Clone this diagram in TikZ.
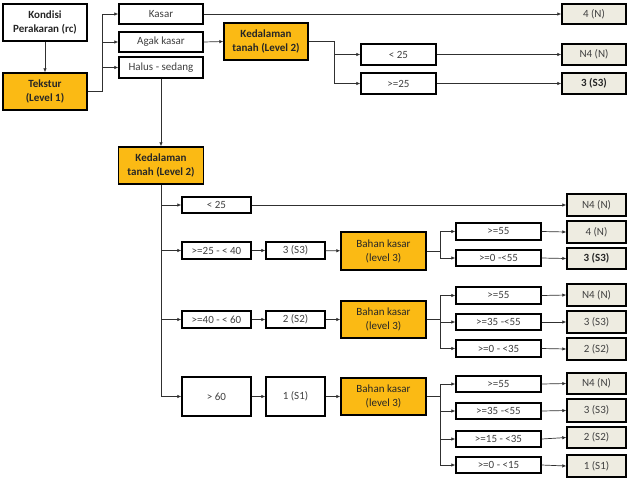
\documentclass[tikz,border=0pt]{standalone}
\usepackage{fontspec}
\setmainfont{Carlito}
\usetikzlibrary{arrows.meta}
\definecolor{gold}{HTML}{FBBA14}
\definecolor{beige}{HTML}{EEECE1}
\definecolor{txtgray}{HTML}{404040}
\definecolor{lngray}{HTML}{303030}
\newcommand{\fs}{\fontsize{11}{14}\selectfont}
\begin{document}
\begin{tikzpicture}[x=1pt,y=-1pt,
  box/.style={draw=black, line width=1.4pt, inner sep=1pt, align=center, font=\fs, text=txtgray, fill=white},
  obox/.style={box, fill=gold, text=black!85},
  rbox/.style={box, fill=beige},
  bf/.style={font=\fs\bfseries, text=black!85},
  sz/.style 2 args={minimum width=#1pt, minimum height=#2pt},
  arr/.style={draw=lngray, line width=0.7pt, -{Latex[length=4pt,width=3.5pt]}},
  ln/.style={draw=lngray, line width=0.7pt}]
\useasboundingbox (0,0) rectangle (636,485);
% top part
\node[box,bf,sz={84}{37}] (kond) at (45,22.5) {Kondisi\\Perakaran (rc)};
\node[obox,bf,sz={84}{37}] (tek) at (45,91.5) {Tekstur\\(Level 1)};
\node[box,sz={84}{20}] (kasar) at (161,14) {Kasar};
\node[box,sz={84}{20}] (agak) at (161,42) {Agak kasar};
\node[box,sz={84}{21}] (halus) at (161,67.5) {Halus - sedang};
\node[obox,bf,sz={84}{37}] (ked1) at (266,41.5) {Kedalaman\\tanah (Level 2)};
\node[rbox,sz={64}{20}] (r4n) at (594,14) {4 (N)};
\node[box,sz={75}{21}] (a25) at (398.5,54.5) {< 25};
\node[box,sz={75}{21}] (b25) at (398.5,83.5) {>=25};
\node[rbox,sz={64}{21}] (rN4a) at (594,54.5) {N4 (N)};
\node[rbox,bf,sz={64}{21}] (rS3a) at (594,83.5) {3 (S3)};
% level 2 lower
\node[obox,bf,sz={85}{37}] (ked2) at (161,165.5) {Kedalaman\\tanah (Level 2)};
\node[box,sz={69}{16}] (c1) at (216.5,205) {< 25};
\node[rbox,sz={59}{22}] (rN4b) at (596.5,205) {N4 (N)};
% row 1
\node[box,sz={69}{17}] (c2) at (216.5,250.5) {>=25 - < 40};
\node[box,sz={59}{17}] (s3) at (295.5,250.5) {3 (S3)};
\node[obox,sz={85}{38}] (bk1) at (383.5,251) {Bahan kasar\\(level 3)};
\node[box,sz={85}{17}] (d11) at (498.5,231.5) {>=55};
\node[box,sz={85}{16}] (d12) at (498.5,258) {>=0 -<55};
\node[rbox,sz={59}{22}] (r11) at (596.5,232) {4 (N)};
\node[rbox,bf,sz={59}{21}] (r12) at (596.5,258.5) {3 (S3)};
% row 2
\node[box,sz={69}{17}] (c3) at (216.5,319.5) {>=40 - < 60};
\node[box,sz={59}{17}] (s2) at (295.5,319.5) {2 (S2)};
\node[obox,sz={85}{37}] (bk2) at (383.5,319.5) {Bahan kasar\\(level 3)};
\node[box,sz={85}{17}] (d21) at (498.5,295.5) {>=55};
\node[box,sz={85}{16}] (d22) at (498.5,322) {>=35 -<55};
\node[box,sz={85}{17}] (d23) at (498.5,348.5) {>=0 - <35};
\node[rbox,sz={59}{22}] (r21) at (596.5,295) {N4 (N)};
\node[rbox,sz={59}{22}] (r22) at (596.5,322) {3 (S3)};
\node[rbox,sz={59}{22}] (r23) at (596.5,349) {2 (S2)};
% row 3
\node[box,sz={69}{39}] (c4) at (216.5,396.5) {> 60};
\node[box,sz={59}{39}] (s1) at (295.5,396.5) {1 (S1)};
\node[obox,sz={85}{37}] (bk3) at (383.5,396.5) {Bahan kasar\\(level 3)};
\node[box,sz={85}{16}] (d31) at (498.5,384) {>=55};
\node[box,sz={85}{16}] (d32) at (498.5,411) {>=35 -<55};
\node[box,sz={85}{16}] (d33) at (498.5,439) {>=15 - <35};
\node[box,sz={85}{16}] (d34) at (498.5,465) {>=0 - <15};
\node[rbox,sz={59}{21}] (r31) at (596.5,383.5) {N4 (N)};
\node[rbox,sz={59}{23}] (r32) at (596.5,410.5) {3 (S3)};
\node[rbox,sz={59}{21}] (r33) at (596.5,437.5) {2 (S2)};
\node[rbox,sz={59}{22}] (r34) at (596.5,466) {1 (S1)};
% connectors top
\draw[arr] (kond) -- (tek);
\coordinate (tj) at ([xshift=-16pt]kasar.west);
\draw[arr] (tek.east) -| (tj) -- (kasar.west);
\draw[arr] (tj |- agak.west) -- (agak.west);
\draw[arr] (tj |- halus.west) -- (halus.west);
\draw[arr] (agak.east) -- (ked1.west);
\draw[arr] (kasar.east) -- (r4n.west);
\coordinate (kj) at ([xshift=-26pt]a25.west);
\draw[arr] (ked1.east) -| (kj) -- (a25.west);
\draw[arr] (kj) |- (b25.west);
\draw[arr] (a25.east) -- (rN4a.west);
\draw[arr] (b25.east) -- (rS3a.west);
\draw[arr] (halus.south) -- (ked2.north);
% level 2 lower
\draw[arr] (ked2.south) |- (c4.west);
\draw[arr] (ked2.south |- c1.west) -- (c1.west);
\draw[arr] (ked2.south |- c2.west) -- (c2.west);
\draw[arr] (ked2.south |- c3.west) -- (c3.west);
\draw[arr] (c1.east) -- (rN4b.west);
% row 1
\draw[arr] (c2) -- (s3);
\draw[arr] (s3) -- (bk1);
\coordinate (j1) at ([xshift=-15pt]d11.west |- bk1.east);
\draw[ln] (bk1.east) -- (j1);
\draw[arr] (j1) |- (d11.west);
\draw[arr] (j1) |- (d12.west);
\draw[arr] (d11.east) -- (r11.west);
\draw[arr] (d12.east) -- (r12.west);
% row 2
\draw[arr] (c3) -- (s2);
\draw[arr] (s2) -- (bk2);
\coordinate (j2) at ([xshift=-15pt]d21.west |- bk2.east);
\draw[ln] (bk2.east) -- (j2);
\draw[arr] (j2) |- (d21.west);
\draw[arr] (j2) |- (d22.west);
\draw[arr] (j2) |- (d23.west);
\draw[arr] (d21.east) -- (r21.west);
\draw[arr] (d22.east) -- (r22.west);
\draw[arr] (d23.east) -- (r23.west);
% row 3
\draw[arr] (c4) -- (s1);
\draw[arr] (s1) -- (bk3);
\coordinate (j3) at ([xshift=-15pt]d31.west |- bk3.east);
\draw[ln] (bk3.east) -- (j3);
\draw[arr] (j3) |- (d31.west);
\draw[arr] (j3) |- (d32.west);
\draw[arr] (j3) |- (d33.west);
\draw[arr] (j3) |- (d34.west);
\draw[arr] (d31.east) -- (r31.west);
\draw[arr] (d32.east) -- (r32.west);
\draw[arr] (d33.east) -- (r33.west);
\draw[arr] (d34.east) -- (r34.west);
\end{tikzpicture}
\end{document}
